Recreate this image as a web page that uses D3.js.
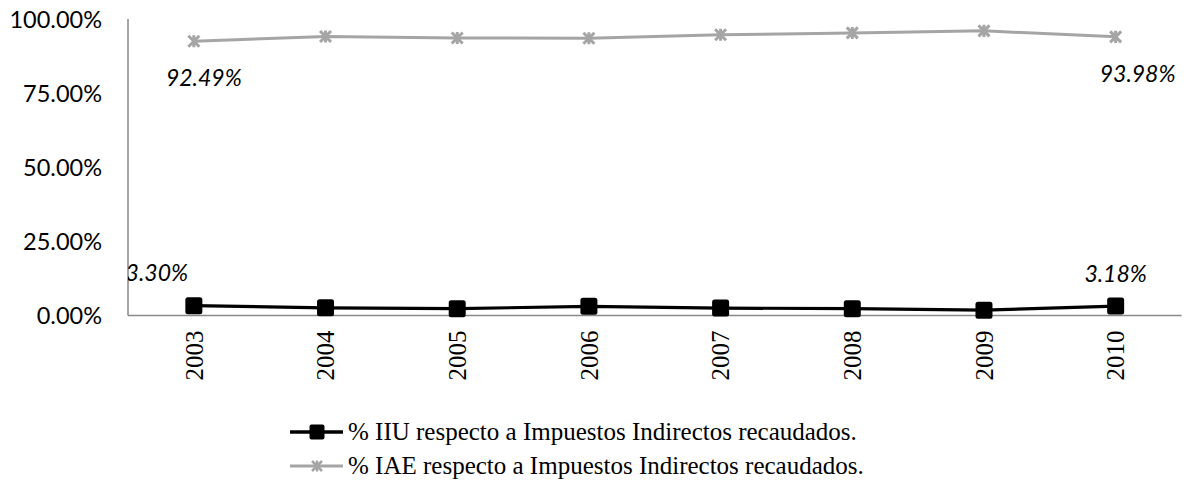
<!DOCTYPE html>
<html><head><meta charset="utf-8">
<script src="https://cdn.jsdelivr.net/npm/d3@7"></script>
<style>body{margin:0;background:#fff}svg{display:block}</style>
</head><body><svg id="c" width="1188" height="483"></svg>
<script>
const years = ["2003", "2004", "2005", "2006", "2007", "2008", "2009", "2010"];
const iiuValues = [3.30, 2.6, 2.3, 3.1, 2.5, 2.3, 1.8, 3.18];
const iaeValues = [92.49, 94.1, 93.6, 93.5, 94.7, 95.3, 96.0, 93.98];
const yTickValues = [0, 25, 50, 75, 100];
const seriesNames = ["% IIU respecto a Impuestos Indirectos recaudados.", "% IAE respecto a Impuestos Indirectos recaudados."];
const labeledPoints = [
  {series: 1, index: 0}, {series: 1, index: 7},
  {series: 0, index: 0}, {series: 0, index: 7}
];

// style / layout
const W = 1188, H = 483;
const M = {left: 128, right: 1181.5, top: 19, bottom: 315.5};
const colors = ["#000000", "#A5A5A5"];
const labelOffsets = [
  {dx: 10, dy: 36}, {dx: 22, dy: 37}, {dx: -37, dy: -33}, {dx: 0, dy: -32}
];

const svg = d3.select("#c");
const x = d3.scaleBand().domain(years).range([M.left, M.right]);
const y = d3.scaleLinear().domain([0, 100]).range([M.bottom, M.top]);
const cx = d => x(d) + x.bandwidth() / 2;
const fmt = v => d3.format(".2f")(v) + "%";

// y axis labels
const yAxis = d3.axisLeft(y).tickValues(yTickValues).tickSize(0).tickPadding(26).tickFormat(fmt);
const gy = svg.append("g").attr("transform", `translate(${M.left},0)`).call(yAxis);
gy.select(".domain").remove();
gy.selectAll("text").attr("font-family", "Lato, 'Open Sans', sans-serif").attr("font-size", 23.5).attr("fill", "#000").attr("dy", "0.36em");

// x axis labels
const xAxis = d3.axisBottom(x).tickSize(0).tickPadding(0);
const gx = svg.append("g").attr("transform", `translate(0,${M.bottom})`).call(xAxis);
gx.select(".domain").remove();
gx.selectAll("text")
  .attr("font-family", "'Liberation Serif', 'Times New Roman', serif").attr("font-size", 25).attr("fill", "#000")
  .attr("transform", "rotate(-90)").attr("text-anchor", "end")
  .attr("x", -15).attr("y", 0).attr("dy", "0.35em");

// axis lines
svg.append("line").attr("x1", M.left).attr("x2", M.left).attr("y1", M.top).attr("y2", M.bottom)
  .attr("stroke", "#898989").attr("stroke-width", 1.5);
svg.append("line").attr("x1", M.left).attr("x2", M.right).attr("y1", M.bottom).attr("y2", M.bottom)
  .attr("stroke", "#898989").attr("stroke-width", 1.5);

const line = d3.line().x((v, i) => cx(years[i])).y(v => y(v));

// IAE series (grey, star)
svg.append("path").datum(iaeValues).attr("d", line).attr("fill", "none")
  .attr("stroke", colors[1]).attr("stroke-width", 3).attr("stroke-linejoin", "round");
function star(g, s, w) {
  const r = s / 2;
  g.append("path").attr("d", `M${-r},${-r}L${r},${r}M${-r},${r}L${r},${-r}M0,${-r * 1.1}L0,${r * 1.1}`)
    .attr("stroke", colors[1]).attr("stroke-width", w).attr("fill", "none");
}
svg.append("g").selectAll("g").data(iaeValues).join("g")
  .attr("transform", (v, i) => `translate(${cx(years[i])},${y(v)})`)
  .each(function () { star(d3.select(this), 11, 3); });

// IIU series (black, square)
svg.append("path").datum(iiuValues).attr("d", line).attr("fill", "none")
  .attr("stroke", colors[0]).attr("stroke-width", 3.2).attr("stroke-linejoin", "round");
svg.append("g").selectAll("rect").data(iiuValues).join("rect")
  .attr("x", (v, i) => cx(years[i]) - 8.5).attr("y", v => y(v) - 8.5)
  .attr("width", 17).attr("height", 17).attr("rx", 2.5).attr("fill", "#000");

// data labels
svg.append("clipPath").attr("id", "plotclip").append("rect")
  .attr("x", M.left).attr("y", 0).attr("width", W - M.left).attr("height", H);
const allSeries = [iiuValues, iaeValues];
svg.append("g").attr("clip-path", "url(#plotclip)").selectAll("text").data(labeledPoints).join("text")
  .attr("x", (d, k) => cx(years[d.index]) + labelOffsets[k].dx)
  .attr("y", (d, k) => y(allSeries[d.series][d.index]) + labelOffsets[k].dy)
  .attr("dy", "0.36em").attr("text-anchor", "middle")
  .attr("font-family", "Lato, 'Open Sans', sans-serif").attr("font-size", 23).attr("font-style", "italic")
  .text(d => fmt(allSeries[d.series][d.index]));

// legend
const legendRows = [432, 466];
const lg = svg.append("g");
seriesNames.forEach((name, i) => {
  const g = lg.append("g").attr("transform", `translate(290,${legendRows[i]})`);
  g.append("line").attr("x1", 0).attr("x2", 53).attr("y1", 0).attr("y2", 0)
    .attr("stroke", colors[i]).attr("stroke-width", i === 0 ? 3.5 : 3);
  if (i === 0) {
    g.append("rect").attr("x", 27 - 7.5).attr("y", -7.5).attr("width", 15).attr("height", 15).attr("rx", 2).attr("fill", "#000");
  } else {
    const s = g.append("g").attr("transform", "translate(27,0)");
    star(s, 10, 2.5);
  }
  g.append("text").attr("x", 58).attr("y", 0).attr("dy", "0.33em")
    .attr("font-family", "'Liberation Serif', 'Times New Roman', serif").attr("font-size", 25).attr("fill", "#000")
    .text(name);
});
</script></body></html>
